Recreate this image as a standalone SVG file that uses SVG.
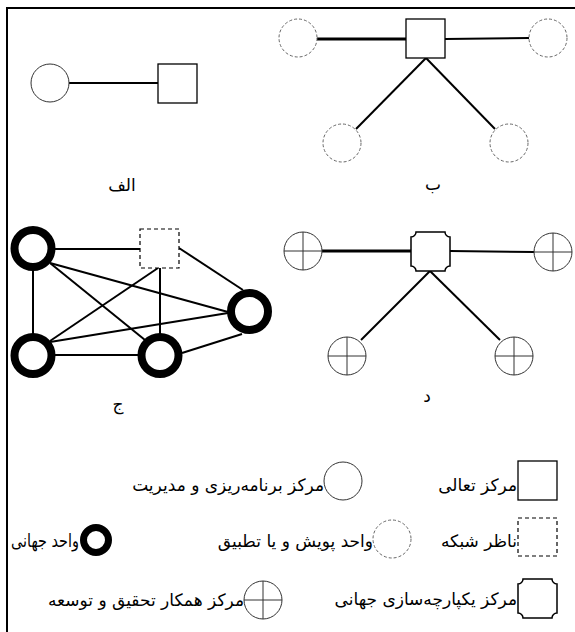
<svg xmlns="http://www.w3.org/2000/svg" width="575" height="632" viewBox="0 0 575 632">
<style>
.frame{fill:none;stroke:#000;stroke-width:2}
.ln{stroke:#000;stroke-width:2;fill:none}
.lnb{stroke:#000;stroke-width:3;fill:none}
.sq{fill:#fff;stroke:#000;stroke-width:1.3}
.dsq{fill:#fff;stroke:#000;stroke-width:1.2;stroke-dasharray:4,3}
.c{fill:#fff;stroke:#333;stroke-width:1}
.dc{fill:#fff;stroke:#666;stroke-width:1;stroke-dasharray:3,2}
.tc{fill:#fff;stroke:#000;stroke-width:8}
.xc{fill:#fff;stroke:#333;stroke-width:1}
.xl{stroke:#333;stroke-width:1}
.pl{fill:#fff;stroke:#000;stroke-width:1.5}
text{font-family:"DejaVu Sans","Noto Sans",sans-serif;font-size:17px;fill:#000}
.lbl{text-anchor:middle}
.lg{text-anchor:end}
</style>
<defs>
<g id="xcirc"><circle class="xc" cx="0" cy="0" r="19"/><line class="xl" x1="-19" y1="0" x2="19" y2="0"/><line class="xl" x1="0" y1="-19" x2="0" y2="19"/></g>
<path id="plaque" class="pl" d="M5,0 H34 A5,5 0 0 0 39,5 V34 A5,5 0 0 0 34,39 H5 A5,5 0 0 0 0,34 V5 A5,5 0 0 0 5,0 Z"/>
</defs>
<rect class="frame" x="7" y="8" width="620" height="680"/>

<g id="connectors">
<line class="ln" x1="69" y1="83" x2="158" y2="83"/>
<line class="lnb" x1="317" y1="39" x2="406" y2="39"/>
<line class="ln" x1="445" y1="39" x2="529" y2="38"/>
<line class="ln" x1="426" y1="58" x2="356" y2="129"/>
<line class="ln" x1="426" y1="58" x2="495" y2="129"/>
<line class="ln" x1="33" y1="249" x2="140" y2="249"/>
<line class="ln" x1="179" y1="248" x2="243" y2="290"/>
<line class="ln" x1="33" y1="248" x2="33" y2="356"/>
<line class="ln" x1="50" y1="263" x2="228" y2="312"/>
<line class="ln" x1="50" y1="263" x2="145" y2="340"/>
<line class="ln" x1="158" y1="268" x2="50" y2="341"/>
<line class="ln" x1="160" y1="268" x2="160" y2="336"/>
<line class="ln" x1="50" y1="342" x2="228" y2="313"/>
<line class="ln" x1="33" y1="355" x2="160" y2="355"/>
<line class="ln" x1="182" y1="353" x2="242" y2="334"/>
<line class="lnb" x1="322" y1="251" x2="411" y2="251"/>
<line class="ln" x1="450" y1="251" x2="534" y2="252"/>
<line class="ln" x1="430" y1="271" x2="361" y2="340"/>
<line class="ln" x1="430" y1="271" x2="500" y2="340"/>
</g>

<g id="alef">
<circle id="a-c" class="c" cx="50" cy="83" r="19"/>
<rect id="a-s" class="sq" x="158" y="64" width="39" height="39"/>
<text class="lbl" x="122" y="191">الف</text>
</g>

<g id="be">
<rect id="b-s" class="sq" x="406" y="19" width="39" height="39"/>
<circle id="b-c1" class="dc" cx="298" cy="38" r="19"/>
<circle id="b-c2" class="dc" cx="548" cy="38" r="19"/>
<circle id="b-c3" class="dc" cx="342" cy="143" r="19"/>
<circle id="b-c4" class="dc" cx="509" cy="143" r="19"/>
<text class="lbl" x="433" y="190">ب</text>
</g>

<g id="jim">
<rect id="j-s" class="dsq" x="140" y="229" width="39" height="39"/>
<circle id="j-c1" class="tc" cx="33" cy="248.5" r="18.5"/>
<circle id="j-c2" class="tc" cx="33" cy="355.5" r="18.5"/>
<circle id="j-c3" class="tc" cx="160" cy="355.5" r="18.5"/>
<circle id="j-c4" class="tc" cx="249.5" cy="311.5" r="18.5"/>
<text class="lbl" x="118" y="410">ج</text>
</g>

<g id="dal">
<use id="d-p" href="#plaque" x="411" y="232"/>
<use id="d-c1" href="#xcirc" x="303" y="251"/>
<use id="d-c2" href="#xcirc" x="553" y="252"/>
<use id="d-c3" href="#xcirc" x="347" y="356"/>
<use id="d-c4" href="#xcirc" x="514" y="356"/>
<text class="lbl" x="427" y="402">د</text>
</g>

<g id="legend">
<g id="lg-excellence"><rect class="sq" x="518" y="461" width="39" height="39"/><text class="lg" x="517" y="491">مرکز تعالی</text></g>
<g id="lg-planning"><circle class="c" cx="343" cy="481" r="19"/><text class="lg" x="324" y="491">مرکز برنامه‌ریزی و مدیریت</text></g>
<g id="lg-observer"><rect class="dsq" x="518" y="518" width="39" height="38"/><text class="lg" x="517" y="547">ناظر شبکه</text></g>
<g id="lg-scan"><circle class="dc" cx="392" cy="539" r="19"/><text class="lg" x="373" y="547">واحد پویش و یا تطبیق</text></g>
<g id="lg-global"><circle class="tc" cx="96" cy="540" r="12.5" style="stroke-width:7"/><text class="lg" x="79" y="547" style="font-size:18px" textLength="68" lengthAdjust="spacingAndGlyphs">واحد جهانی</text></g>
<g id="lg-integration"><use href="#plaque" x="518" y="579"/><text class="lg" x="517" y="605">مرکز یکپارچه‌سازی جهانی</text></g>
<g id="lg-rnd"><use href="#xcirc" x="263" y="600"/><text class="lg" x="244" y="606">مرکز همکار تحقیق و توسعه</text></g>
</g>
</svg>
